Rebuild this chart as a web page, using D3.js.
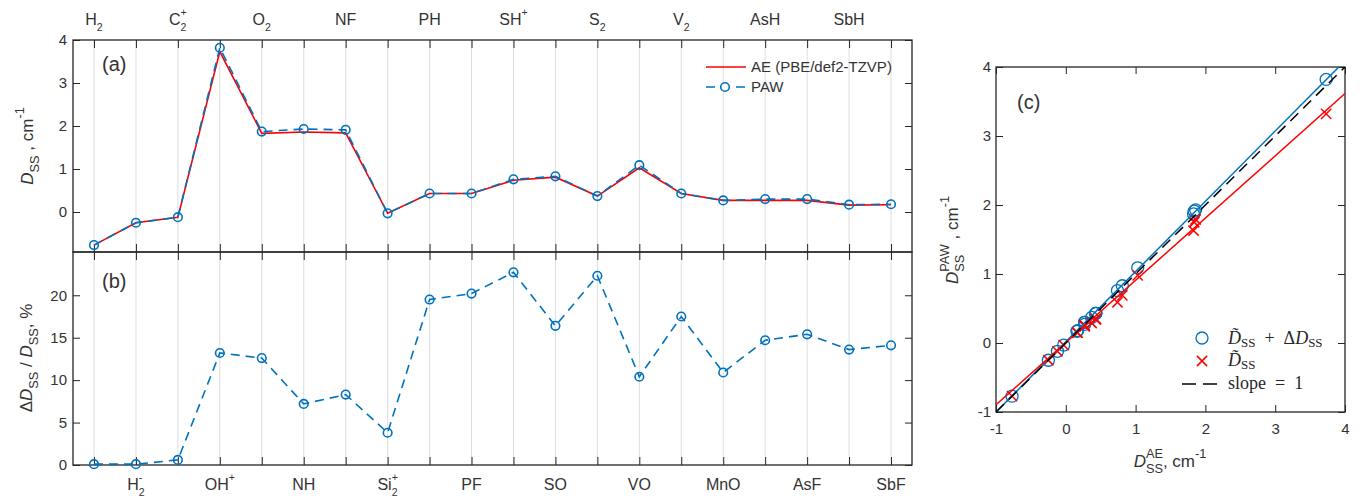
<!DOCTYPE html>
<html>
<head>
<meta charset="utf-8">
<title>D_SS: AE vs PAW</title>
<style>
body { margin: 0; background: #fff }
svg { display: block }
text { font-family: "Liberation Sans", Arial, sans-serif; fill: #333 }
.tick text { font-size: 15px; fill: #333 }
.tick line { stroke: #262626; stroke-width: 1 }
.domain { display: none }
.grid { stroke: #dedede; stroke-width: 1 }
.box { fill: none; stroke: #262626; stroke-width: 1.3 }
.serif { font-family: "Liberation Serif", "DejaVu Serif", serif; fill: #262626 }
</style>
</head>
<body>
<script src="https://cdn.jsdelivr.net/npm/d3@7/dist/d3.min.js"></script>
<script>

// molecules, in plot order (odd ones labelled on top, even ones at the bottom)
var categories = ['H_2', 'H_2^-', 'C_2^+', 'OH^+', 'O_2', 'NH', 'NF', 'Si_2^+', 'PH', 'PF',
                  'SH^+', 'SO', 'S_2', 'VO', 'V_2', 'MnO', 'AsH', 'AsF', 'SbH', 'SbF']

// D_SS, cm^-1
var aeValues  = [-0.77, -0.25, -0.12, 3.73, 1.83, 1.86, 1.84, -0.03, 0.43, 0.43,
                 0.74, 0.81, 0.37, 1.03, 0.43, 0.27, 0.27, 0.27, 0.16, 0.17]
var pawValues = [-0.77, -0.25, -0.12, 3.82, 1.87, 1.93, 1.91, -0.03, 0.43, 0.43,
                 0.76, 0.83, 0.37, 1.09, 0.43, 0.27, 0.30, 0.30, 0.17, 0.18]
// D~_SS (PAW without the correction)
var tildeValues = [-0.77, -0.25, -0.12, 3.32, 1.63, 1.79, 1.75, -0.03, 0.35, 0.34,
                   0.59, 0.69, 0.29, 0.98, 0.35, 0.24, 0.26, 0.25, 0.15, 0.15]
// Delta D_SS / D_SS, %
var pctValues = [0.1, 0.1, 0.6, 13.2, 12.6, 7.2, 8.3, 3.8, 19.5, 20.2,
                 22.7, 16.4, 22.3, 10.4, 17.5, 10.9, 14.7, 15.4, 13.6, 14.1]

var ticksA = [0, 1, 2, 3, 4]
var ticksB = [0, 5, 10, 15, 20]
var ticksC = [-1, 0, 1, 2, 3, 4]

// linear fits in panel (c): [slope, intercept]
var fitPaw = [1.018, 0.018]
var fitTilde = [0.902, 0.007]

var blue = '#0072bd', red = '#ff0000'
var plain = function(d) { return String(d) }
var none = function() { return '' }

var svg = d3.select('body').append('svg')
    .attr('width', 1360)
    .attr('height', 498)

var idx = d3.range(1, categories.length + 1)

var x = d3.scaleLinear().domain([0.5, 20.5]).range([73, 912])
var yA = d3.scaleLinear().domain([-0.93, 4]).range([252, 40])
var yB = d3.scaleLinear().domain([0, 25.1]).range([465, 252])
var xC = d3.scaleLinear().domain([-1, 4]).range([996, 1345])
var yC = d3.scaleLinear().domain([-1, 4]).range([412, 67])

// tex-ish "C_2^+" -> parts
function texParts(s) {
    var out = [], re = /([_^])(\{[^}]*\}|.)|([^_^]+)/g, m, lastSub = false
    while ((m = re.exec(s))) {
        if (m[3]) { out.push([m[3], 'n']); lastSub = false; continue }
        var v = m[2].replace(/[{}]/g, '')
        if (m[1] === '_') { out.push([v, 'b']); lastSub = true }
        else { out.push([v, lastSub ? 'P' : 'p']); lastSub = false }
    }
    return out
}

// write parts into a text element: n normal, i italic, b sub, p sup, P sup stacked over sub
function rich(sel, parts, fs, small, subShift) {
    var shift = 0, prev = null
    small = small || 0.68
    subShift = subShift || 0.42
    parts.forEach(function(p) {
        var k = p[1] || 'n'
        var target = k === 'b' ? fs * subShift : (k === 'p' || k === 'P') ? -fs * 0.55 : 0
        var ts = sel.append('tspan').text(p[0])
            .attr('dy', target - shift)
            .style('font-size', (k === 'n' || k === 'i') ? fs + 'px' : (fs * small) + 'px')
        if (k === 'i') ts.style('font-style', 'italic')
        if (k === 'P' && prev) ts.attr('dx', -prev.node().getComputedTextLength())
        shift = target
        prev = ts
    })
}

// ---------- panels (a) and (b) ----------
var gA = svg.append('g')

gA.selectAll('line.ga').data(idx).enter().append('line')
    .attr('class', 'grid')
    .attr('x1', x).attr('x2', x)
    .attr('y1', 40).attr('y2', 465)

function xTicks(axisFn, yPos) {
    gA.append('g')
        .attr('transform', 'translate(0,' + yPos + ')')
        .call(axisFn(x).tickValues(idx).tickSizeInner(-8).tickSizeOuter(0).tickFormat(none))
}
xTicks(d3.axisTop, 40)
xTicks(d3.axisBottom, 252)
xTicks(d3.axisTop, 252)
xTicks(d3.axisBottom, 465)

gA.append('g').attr('transform', 'translate(73,0)')
    .call(d3.axisLeft(yA).tickValues(ticksA).tickSizeInner(-7).tickSizeOuter(0).tickPadding(6).tickFormat(plain))
gA.append('g').attr('transform', 'translate(912,0)')
    .call(d3.axisRight(yA).tickValues(ticksA).tickSizeInner(-7).tickSizeOuter(0).tickFormat(none))
gA.append('g').attr('transform', 'translate(73,0)')
    .call(d3.axisLeft(yB).tickValues(ticksB).tickSizeInner(-7).tickSizeOuter(0).tickPadding(6).tickFormat(plain))
gA.append('g').attr('transform', 'translate(912,0)')
    .call(d3.axisRight(yB).tickValues(ticksB).tickSizeInner(-7).tickSizeOuter(0).tickFormat(none))

// category labels, alternating top / bottom
categories.forEach(function(c, i) {
    var top = i % 2 === 0
    var t = gA.append('text')
        .attr('x', x(i + 1))
        .attr('y', top ? 25 : 490)
        .attr('text-anchor', 'middle')
    rich(t, texParts(c), 16, 0.66, 0.36)
})

gA.append('rect').attr('class', 'box').attr('x', 73).attr('y', 40).attr('width', 839).attr('height', 212)
gA.append('rect').attr('class', 'box').attr('x', 73).attr('y', 252).attr('width', 839).attr('height', 213)

// (a) lines
var lineA = d3.line().x(function(d, i) { return x(i + 1) }).y(function(d) { return yA(d) })
gA.append('path').datum(aeValues)
    .attr('d', lineA)
    .attr('fill', 'none').attr('stroke', red).attr('stroke-width', 1.6)
gA.append('path').datum(pawValues)
    .attr('d', lineA)
    .attr('fill', 'none').attr('stroke', blue).attr('stroke-width', 1.6).attr('stroke-dasharray', '9,6')
gA.selectAll('circle.pa').data(pawValues).enter().append('circle')
    .attr('cx', function(d, i) { return x(i + 1) })
    .attr('cy', yA)
    .attr('r', 4.3)
    .attr('fill', 'none').attr('stroke', blue).attr('stroke-width', 1.6)

// (b) line
var lineB = d3.line().x(function(d, i) { return x(i + 1) }).y(function(d) { return yB(d) })
gA.append('path').datum(pctValues)
    .attr('d', lineB)
    .attr('fill', 'none').attr('stroke', blue).attr('stroke-width', 1.6).attr('stroke-dasharray', '9,6')
gA.selectAll('circle.pb').data(pctValues).enter().append('circle')
    .attr('cx', function(d, i) { return x(i + 1) })
    .attr('cy', yB)
    .attr('r', 4.3)
    .attr('fill', 'none').attr('stroke', blue).attr('stroke-width', 1.6)

// legend (a)
gA.append('line').attr('x1', 706).attr('x2', 746).attr('y1', 67).attr('y2', 67)
    .attr('stroke', red).attr('stroke-width', 1.6)
gA.append('text').attr('x', 751).attr('y', 72).style('font-size', '15px').text('AE (PBE/def2-TZVP)')
gA.append('line').attr('x1', 706).attr('x2', 746).attr('y1', 87).attr('y2', 87)
    .attr('stroke', blue).attr('stroke-width', 1.6).attr('stroke-dasharray', '9,6')
gA.append('circle').attr('cx', 725).attr('cy', 87).attr('r', 4.3)
    .attr('fill', '#fff').attr('stroke', blue).attr('stroke-width', 1.6)
gA.append('text').attr('x', 751).attr('y', 92).style('font-size', '15px').text('PAW')

gA.append('text').attr('x', 102).attr('y', 71).style('font-size', '20px').text('(a)')
gA.append('text').attr('x', 102).attr('y', 288).style('font-size', '20px').text('(b)')

var labA = gA.append('text').attr('transform', 'translate(33,146) rotate(-90)').attr('text-anchor', 'middle')
rich(labA, [['D', 'i'], ['SS', 'b'], [' , cm', 'n'], ['-1', 'p']], 17, 0.75, 0.38)
var labB = gA.append('text').attr('transform', 'translate(32,358) rotate(-90)').attr('text-anchor', 'middle')
rich(labB, [['\u0394', 'n'], ['D', 'i'], ['SS', 'b'], [' / ', 'n'], ['D', 'i'], ['SS', 'b'], [', %', 'n']], 17, 0.75, 0.38)

// ---------- panel (c) ----------
var gC = svg.append('g')

gC.append('defs').append('clipPath').attr('id', 'clipC')
    .append('rect').attr('x', 996).attr('y', 67).attr('width', 349).attr('height', 345)

gC.append('g').attr('transform', 'translate(0,412)')
    .call(d3.axisBottom(xC).tickValues(ticksC).tickSizeInner(-7).tickSizeOuter(0).tickPadding(11).tickFormat(plain))
gC.append('g').attr('transform', 'translate(0,67)')
    .call(d3.axisTop(xC).tickValues(ticksC).tickSizeInner(-7).tickSizeOuter(0).tickFormat(none))
gC.append('g').attr('transform', 'translate(996,0)')
    .call(d3.axisLeft(yC).tickValues(ticksC).tickSizeInner(-7).tickSizeOuter(0).tickPadding(5).tickFormat(plain))
gC.append('g').attr('transform', 'translate(1345,0)')
    .call(d3.axisRight(yC).tickValues(ticksC).tickSizeInner(-7).tickSizeOuter(0).tickFormat(none))
gC.append('rect').attr('class', 'box').attr('x', 996).attr('y', 67).attr('width', 349).attr('height', 345)

var plotC = gC.append('g').attr('clip-path', 'url(#clipC)')

plotC.selectAll('circle').data(pawValues).enter().append('circle')
    .attr('cx', function(d, i) { return xC(aeValues[i]) })
    .attr('cy', yC)
    .attr('r', 6)
    .attr('fill', 'none').attr('stroke', blue).attr('stroke-width', 1.3)

var cross = d3.symbol().type(d3.symbolX).size(70)
plotC.selectAll('path.cr').data(tildeValues).enter().append('path')
    .attr('d', cross)
    .attr('transform', function(d, i) { return 'translate(' + xC(aeValues[i]) + ',' + yC(d) + ')' })
    .attr('fill', 'none').attr('stroke', red).attr('stroke-width', 1.5)

function fitLine(f, color, dash) {
    plotC.append('line')
        .attr('x1', xC(-1)).attr('y1', yC(f[0] * -1 + f[1]))
        .attr('x2', xC(4)).attr('y2', yC(f[0] * 4 + f[1]))
        .attr('stroke', color).attr('stroke-width', 1.5)
        .attr('stroke-dasharray', dash || null)
}
fitLine(fitPaw, blue)
fitLine(fitTilde, red)
fitLine([1, 0], '#000', '11,7')

gC.append('text').attr('x', 1017).attr('y', 109).style('font-size', '20px').text('(c)')

// legend (c)
gC.append('circle').attr('cx', 1202).attr('cy', 338).attr('r', 6)
    .attr('fill', 'none').attr('stroke', blue).attr('stroke-width', 1.3)
gC.append('path').attr('d', cross).attr('transform', 'translate(1202,361)')
    .attr('fill', 'none').attr('stroke', red).attr('stroke-width', 1.5)
gC.append('line').attr('x1', 1182).attr('x2', 1218).attr('y1', 384).attr('y2', 384)
    .attr('stroke', '#000').attr('stroke-width', 1.5).attr('stroke-dasharray', '14,7')

var leg1 = gC.append('text').attr('class', 'serif').attr('x', 1228).attr('y', 344)
rich(leg1, [['D\u0303', 'i'], ['SS', 'b'], ['\u2002+\u2002\u0394', 'n'], ['D', 'i'], ['SS', 'b']], 18, 0.72, 0.16)
var leg2 = gC.append('text').attr('class', 'serif').attr('x', 1228).attr('y', 366)
rich(leg2, [['D\u0303', 'i'], ['SS', 'b']], 18, 0.72, 0.16)
gC.append('text').attr('class', 'serif').attr('x', 1228).attr('y', 389).style('font-size', '18px')
    .text('slope\u2002=\u20021')

var labCy = gC.append('text').attr('transform', 'translate(958,240) rotate(-90)').attr('text-anchor', 'middle')
rich(labCy, [['D', 'i'], ['SS', 'b'], ['PAW', 'P'], [' , cm', 'n'], ['-1', 'p']], 17, 0.75, 0.38)
var labCx = gC.append('text').attr('x', 1170).attr('y', 467).attr('text-anchor', 'middle')
rich(labCx, [['D', 'i'], ['SS', 'b'], ['AE', 'P'], [', cm', 'n'], ['-1', 'p']], 17, 0.75, 0.38)

</script>
</body>
</html>
